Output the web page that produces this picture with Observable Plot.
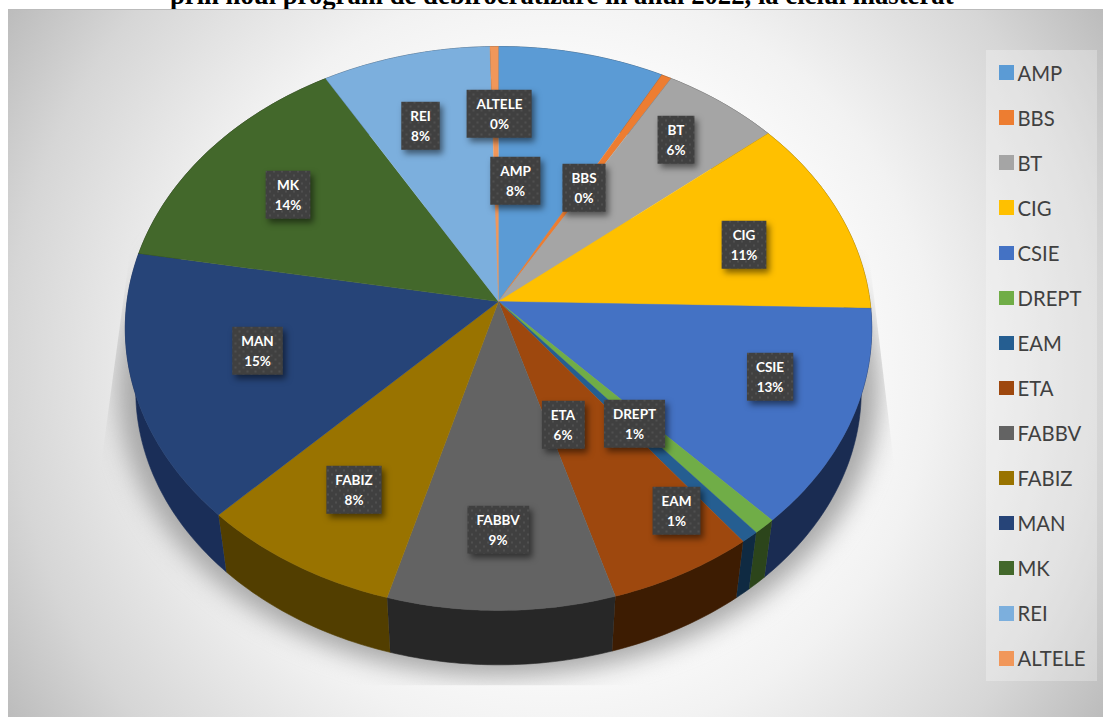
<!DOCTYPE html>
<html><head><meta charset="utf-8">
<script src="https://cdn.jsdelivr.net/npm/d3@7"></script>
<script src="https://cdn.jsdelivr.net/npm/@observablehq/plot@0.6"></script>
<style>
html,body{margin:0;padding:0;background:#fff;overflow:hidden}
#page{position:relative;width:1103px;height:717px;overflow:hidden}
#title{position:absolute;left:170px;top:-20px;white-space:nowrap;font:bold 26.7px "Liberation Serif",serif;color:#000}
#bg{position:absolute;left:8px;top:9px;width:1095px;height:708px;border-top:1px solid #bbb;box-sizing:border-box;
 background:radial-gradient(circle farthest-corner at 50% 50%,#fff 0%,#fafafa 45%,#f2f2f2 58%,#d6d6d6 84%,#bcbcbc 100%)}
#chart{position:absolute;left:0;top:0}
#legend{position:absolute;left:986px;top:50px;width:111px;height:631px;background:rgba(255,255,255,.28);
 box-sizing:border-box;padding:0 0 0 13px;display:flex;flex-direction:column;justify-content:space-around;
 font:20.3px Lato,sans-serif;color:#404040}
#legend div{display:flex;align-items:center;height:24px}
#legend i{display:inline-block;width:14.5px;height:14.5px;margin-right:4px}
</style></head><body>
<div id="page">
<div id="title"></div><div id="bg"></div><div id="chart"></div><div id="legend"></div>
</div>
<script>
const titleText = "prin noul program de debirocratizare în anul 2022, la ciclul masterat";
const names  = ["AMP","BBS","BT","CIG","CSIE","DREPT","EAM","ETA","FABBV","FABIZ","MAN","MK","REI","ALTELE"];
const shares = [7.9,0.48,5.6,11.4,12.6,0.9,0.7,5.8,9.0,8.0,15.4,13.8,8.0,0.4];
const topColors  = ["#5B9BD5","#ED7D31","#A5A5A5","#FFC000","#4472C4","#70AD47","#255E91","#9E480E","#636363","#997300","#264478","#43682B","#7CAFDD","#F1975A"];
const wallColors = ["#25415a","#5f3213","#424242","#665000","#1a2c52","#2c451b","#0f2a42","#3d1c02","#272727","#523e00","#1a2e58","#1b2a11","#324658","#603c24"];

// Perspective view of the pie disc (units: px from the pie's apex)
const R = 371.5, K = 279.4, C = -0.0957;
const project = (a, scale = 1, shift = 0) => {
  const u = Math.sin(a), v = -Math.cos(a), w = 1 + C * v;
  return {x: scale * R * u / w, y: shift + scale * K * v / w};
};
const arcs = d3.pie().sort(null).startAngle(0).endAngle(2 * Math.PI)(shares);
const sample = (a0, a1) => { const n = Math.max(2, Math.ceil((a1 - a0) * 60));
  return d3.range(n + 1).map(i => a0 + (a1 - a0) * i / n); };

const DROP = 63, SHRINK = 0.972;
const topRows = [], wallRows = [];
arcs.forEach((d, i) => {
  const name = names[i], A = sample(d.startAngle, d.endAngle);
  topRows.push({name, x: 0, y: 0});
  A.forEach(a => topRows.push({name, ...project(a)}));
  A.forEach(a => wallRows.push({name, ...project(a)}));
  [...A].reverse().forEach(a => wallRows.push({name, ...project(a, SHRINK, DROP)}));
});
const shadowRows = sample(0, 2 * Math.PI).map(a => project(a, 1.02, 60));

// label placement relative to the pie's apex (manual layout as in the source chart)
const labelNudge = {AMP:[17,-122],BBS:[85.5,-115],BT:[177.5,-163],CIG:[245.5,-58],CSIE:[271.5,74],DREPT:[136,121],
  EAM:[178,208],ETA:[64.5,122],FABBV:[-0.5,227],FABIZ:[-144.5,187],MAN:[-241,48],MK:[-210.5,-108],REI:[-78,-177],ALTELE:[1,-189]};
const pct = d3.format(".0f");

const labelMarks = names.map((n, i) => Plot.text([{name: n, share: shares[i]}], {
  x: () => 0, y: () => 0,
  text: d => d.name + "\n" + pct(d.share) + "%",
  dx: labelNudge[n][0], dy: labelNudge[n][1],
  fill: "white", fontFamily: "Lato", fontWeight: 700, fontSize: 13.5, lineHeight: 1.45,
  textAnchor: "middle", stroke: null
}));

const plot = Plot.plot({
  width: 1103, height: 717, margin: 0,
  x: {domain: [-498, 605], range: [0, 1103], axis: null},
  y: {domain: [-301, 416], range: [0, 717], axis: null},
  color: {domain: names, range: topColors},
  style: {background: "transparent", overflow: "visible"},
  marks: [
    Plot.line(shadowRows, {x: "x", y: "y", fill: "#a8a8a8", stroke: null, imageFilter: "blur(12px)"}),
    Plot.line(wallRows, {x: "x", y: "y", z: "name", fill: d => wallColors[names.indexOf(d.name)], stroke: d => wallColors[names.indexOf(d.name)], strokeWidth: 0.6}),
    Plot.line(topRows, {x: "x", y: "y", z: "name", fill: "name", stroke: "name", strokeWidth: 0.4}),
    ...labelMarks
  ]
});
document.getElementById("chart").append(plot);
document.getElementById("title").textContent = titleText;

// legend
d3.select("#legend").selectAll("div").data(names).join("div")
  .html((d, i) => `<i style="background:${topColors[i]}"></i><span>${d}</span>`);

// decoration: dotted label boxes and clipped shadow
const svg = d3.select(plot);
const defs = svg.insert("defs", ":first-child");
const pat = defs.append("pattern").attr("id", "dots").attr("width", 8).attr("height", 8).attr("patternUnits", "userSpaceOnUse");
pat.append("rect").attr("width", 8).attr("height", 8).attr("fill", "#404040");
pat.append("circle").attr("cx", 2).attr("cy", 2).attr("r", 0.9).attr("fill", "#565656");
pat.append("circle").attr("cx", 6).attr("cy", 6).attr("r", 0.9).attr("fill", "#565656");
defs.append("clipPath").attr("id", "shadowClip").append("polygon")
  .attr("points", "132,232 98,483 98,685 900,685 897,493 868,250 498,200");
svg.select("g[filter]").attr("clip-path", "url(#shadowClip)");
plot.querySelectorAll("g[aria-label='text'] text").forEach(t => {
  const b = t.getBBox(), h = 48, w = b.width + 18;
  const r = document.createElementNS("http://www.w3.org/2000/svg", "rect");
  r.setAttribute("x", b.x + b.width / 2 - w / 2);
  r.setAttribute("y", b.y + b.height / 2 - h / 2);
  r.setAttribute("width", w); r.setAttribute("height", h);
  r.setAttribute("fill", "url(#dots)");
  r.setAttribute("stroke", "none");
  r.setAttribute("transform", t.getAttribute("transform") || "");
  r.style.filter = "drop-shadow(3px 4px 3px rgba(0,0,0,.5))";
  t.parentNode.insertBefore(r, t);
});
</script>
</body></html>
